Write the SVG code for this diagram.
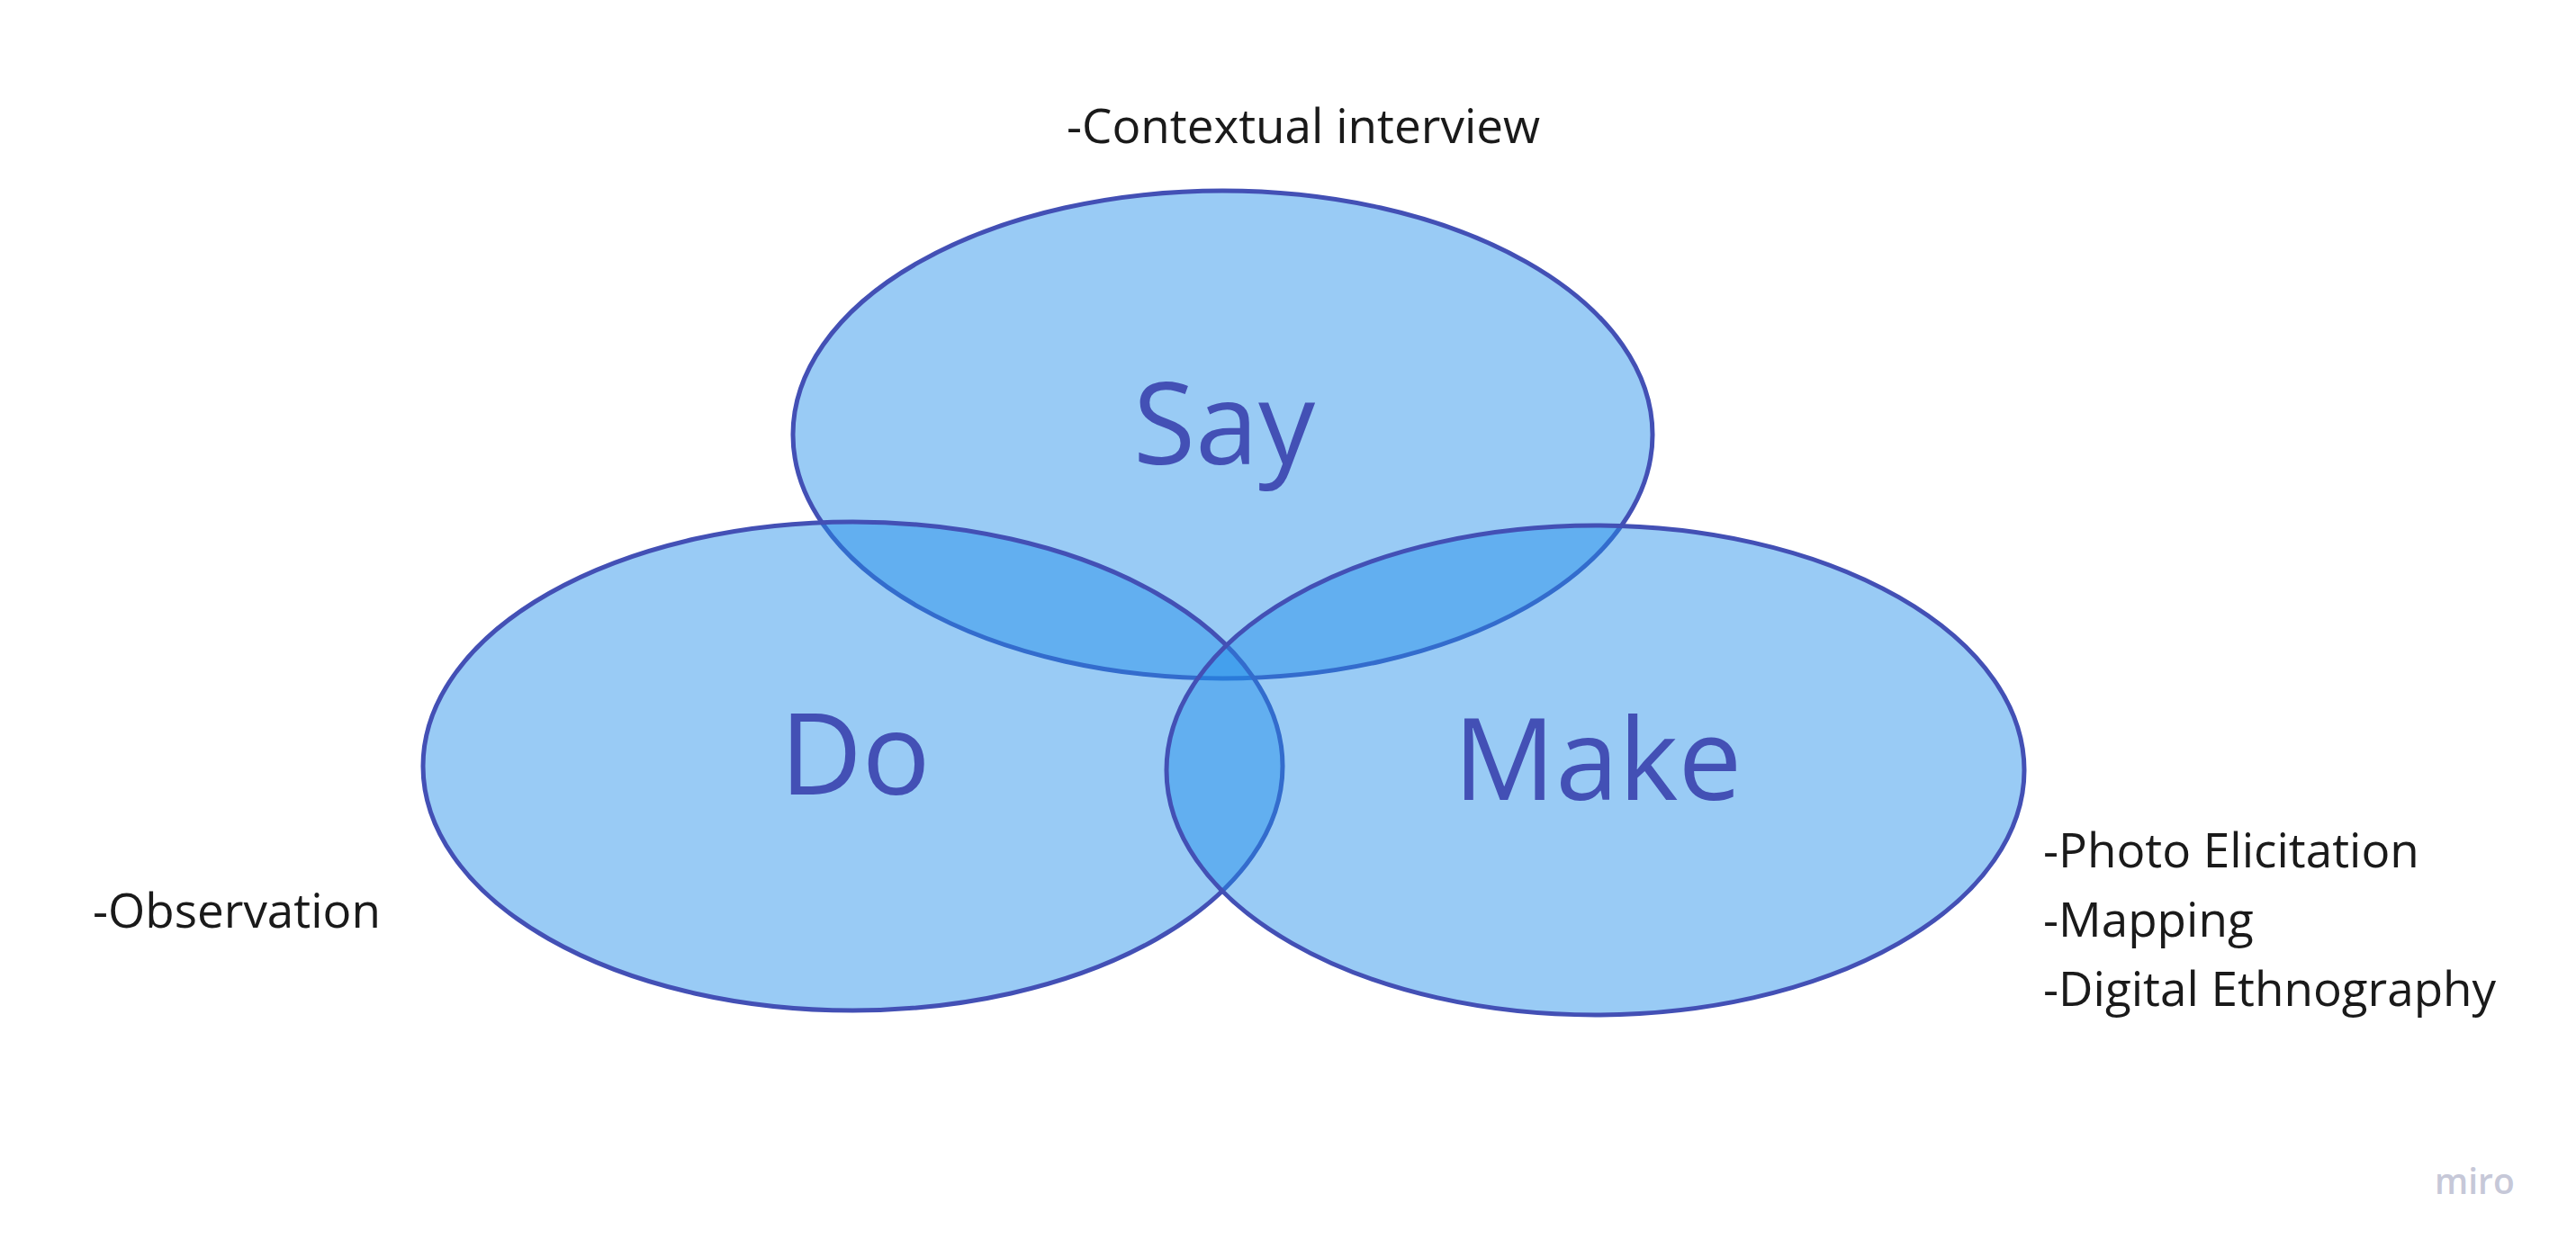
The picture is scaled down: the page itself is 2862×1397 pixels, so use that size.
<svg xmlns="http://www.w3.org/2000/svg" width="2862" height="1397" viewBox="0 0 2862 1397">
<style>
.c{fill:rgb(33,142,233);fill-opacity:0.46;stroke:#4350b5;stroke-width:5}
.t{font-family:"Open Sans","Liberation Sans",sans-serif;font-size:126px;fill:#4350b5;text-anchor:middle}
.l{font-family:"Open Sans","Liberation Sans",sans-serif;font-size:53px;fill:#1a1a1a}
</style>
<rect width="2862" height="1397" fill="#ffffff"/>
<g id="say"><ellipse class="c" cx="1358.5" cy="483" rx="477.5" ry="271"/><text class="t" x="1360" y="516">Say</text></g>
<g id="do"><ellipse class="c" cx="947.5" cy="851.5" rx="477.5" ry="271.5"/><text class="t" x="950" y="883">Do</text></g>
<g id="make"><ellipse class="c" cx="1772.5" cy="856" rx="476.5" ry="272"/><text class="t" x="1775" y="889">Make</text></g>
<g id="connectors"></g>
<g id="labels">
<text class="l" x="1185" y="159">-Contextual interview</text>
<text class="l" x="103" y="1031">-Observation</text>
<text class="l" x="2270" y="964">-Photo Elicitation</text>
<text class="l" x="2270" y="1041">-Mapping</text>
<text class="l" x="2270" y="1118">-Digital Ethnography</text>
</g>
<text x="2705" y="1327" font-family="'Open Sans','Liberation Sans',sans-serif" font-size="39" font-weight="600" fill="#c6c8d8">miro</text>
</svg>
